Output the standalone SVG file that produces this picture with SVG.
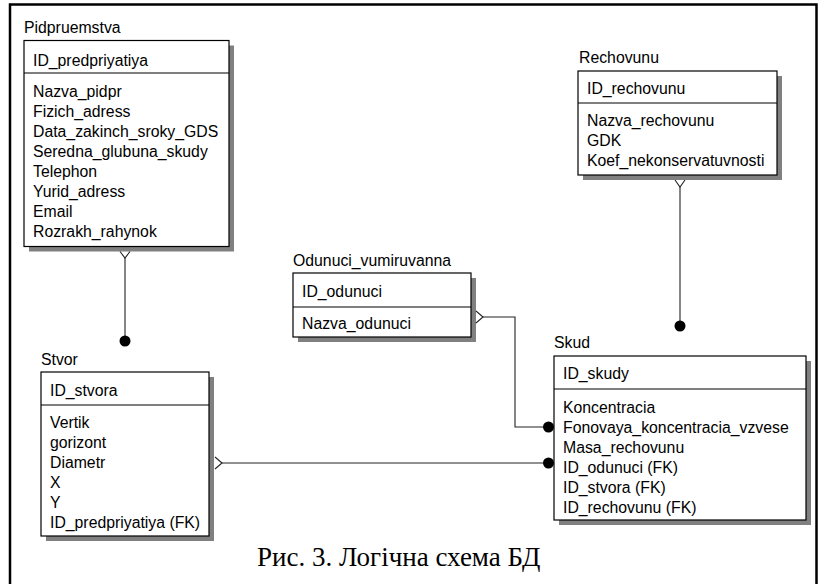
<svg xmlns="http://www.w3.org/2000/svg" width="818" height="584" viewBox="0 0 818 584">
<style>
  text { font-family: "Liberation Sans", Arial, sans-serif; font-size: 15.8px; fill: #000; }
  .box { fill: #fff; stroke: #000; stroke-width: 1.2; }
  .shadow { fill: #808080; }
  .sep { stroke: #000; stroke-width: 1.2; }
  .conn { fill: none; stroke: #222; stroke-width: 1.1; }
  .dot { fill: #000; }
  .cap { font-family: "Liberation Serif", "Times New Roman", serif; font-size: 27px; }
  .frame { stroke: #000; stroke-width: 2.5; fill: none; }
</style>
<rect width="818" height="584" fill="#fff"/>
<path class="frame" d="M10,584 V4.5 H816.5 V584"/>

<g id="Pidpruemstva">
  <text x="24" y="33">Pidpruemstva</text>
  <rect class="shadow" x="29" y="45.5" width="205" height="206"/>
  <rect class="box" x="24" y="40.5" width="205" height="206"/>
  <line class="sep" x1="24" y1="73" x2="229" y2="73"/>
  <text x="33" y="65.5">ID_predpriyatiya</text>
  <text x="33" y="96.5">Nazva_pidpr</text>
  <text x="33" y="116.5">Fizich_adress</text>
  <text x="33" y="136.5">Data_zakinch_sroky_GDS</text>
  <text x="33" y="156.5">Seredna_glubuna_skudy</text>
  <text x="33" y="176.5">Telephon</text>
  <text x="33" y="196.5">Yurid_adress</text>
  <text x="33" y="216.5">Email</text>
  <text x="33" y="236.5">Rozrakh_rahynok</text>
</g>

<g id="Rechovunu">
  <text x="579" y="63">Rechovunu</text>
  <rect class="shadow" x="583" y="76" width="199" height="104"/>
  <rect class="box" x="578" y="71" width="199" height="104"/>
  <line class="sep" x1="578" y1="103" x2="777" y2="103"/>
  <text x="587" y="94">ID_rechovunu</text>
  <text x="587" y="126">Nazva_rechovunu</text>
  <text x="587" y="146">GDK</text>
  <text x="587" y="166">Koef_nekonservatuvnosti</text>
</g>

<g id="Odunuci_vumiruvanna">
  <text x="293" y="266">Odunuci_vumiruvanna</text>
  <rect class="shadow" x="298" y="278" width="178" height="64"/>
  <rect class="box" x="293" y="273" width="178" height="64"/>
  <line class="sep" x1="293" y1="307" x2="471" y2="307"/>
  <text x="302" y="297">ID_odunuci</text>
  <text x="302" y="328.5">Nazva_odunuci</text>
</g>

<g id="Stvor">
  <text x="41" y="365">Stvor</text>
  <rect class="shadow" x="46" y="377" width="168" height="164"/>
  <rect class="box" x="41" y="372" width="168" height="164"/>
  <line class="sep" x1="41" y1="405" x2="209" y2="405"/>
  <text x="50" y="396">ID_stvora</text>
  <text x="50" y="427.5">Vertik</text>
  <text x="50" y="447.5">gorizont</text>
  <text x="50" y="467.5">Diametr</text>
  <text x="50" y="487.5">X</text>
  <text x="50" y="507.5">Y</text>
  <text x="50" y="527.5">ID_predpriyatiya (FK)</text>
</g>

<g id="Skud">
  <text x="554" y="348">Skud</text>
  <rect class="shadow" x="559" y="361" width="252" height="164"/>
  <rect class="box" x="554" y="356" width="252" height="164"/>
  <line class="sep" x1="554" y1="389" x2="806" y2="389"/>
  <text x="563" y="379">ID_skudy</text>
  <text x="563" y="412.5">Koncentracia</text>
  <text x="563" y="432.5">Fonovaya_koncentracia_vzvese</text>
  <text x="563" y="452.5">Masa_rechovunu</text>
  <text x="563" y="472.5">ID_odunuci (FK)</text>
  <text x="563" y="492.5">ID_stvora (FK)</text>
  <text x="563" y="512.5">ID_rechovunu (FK)</text>
</g>

<g id="connectors">
  <!-- Pidpruemstva - Stvor -->
  <polyline class="conn" points="120,251.5 125,258 130,251.5"/>
  <line class="conn" x1="125" y1="258" x2="125" y2="341"/>
  <circle class="dot" cx="125" cy="341" r="5.5"/>
  <!-- Rechovunu - Skud -->
  <polyline class="conn" points="675,180 680,187 685,180"/>
  <line class="conn" x1="680" y1="187" x2="680" y2="326"/>
  <circle class="dot" cx="680" cy="326" r="5.5"/>
  <!-- Odunuci - Skud -->
  <polyline class="conn" points="476,311 483,317 476,323"/>
  <polyline class="conn" points="483,317 515,317 515,427 548,427"/>
  <circle class="dot" cx="548.5" cy="427" r="5.5"/>
  <!-- Stvor - Skud -->
  <polyline class="conn" points="215,457 222,463 215,469"/>
  <line class="conn" x1="222" y1="463" x2="548" y2="463"/>
  <circle class="dot" cx="548.5" cy="463" r="5.5"/>
</g>

<text class="cap" x="257" y="566">Рис. 3. Логічна схема БД</text>
</svg>
